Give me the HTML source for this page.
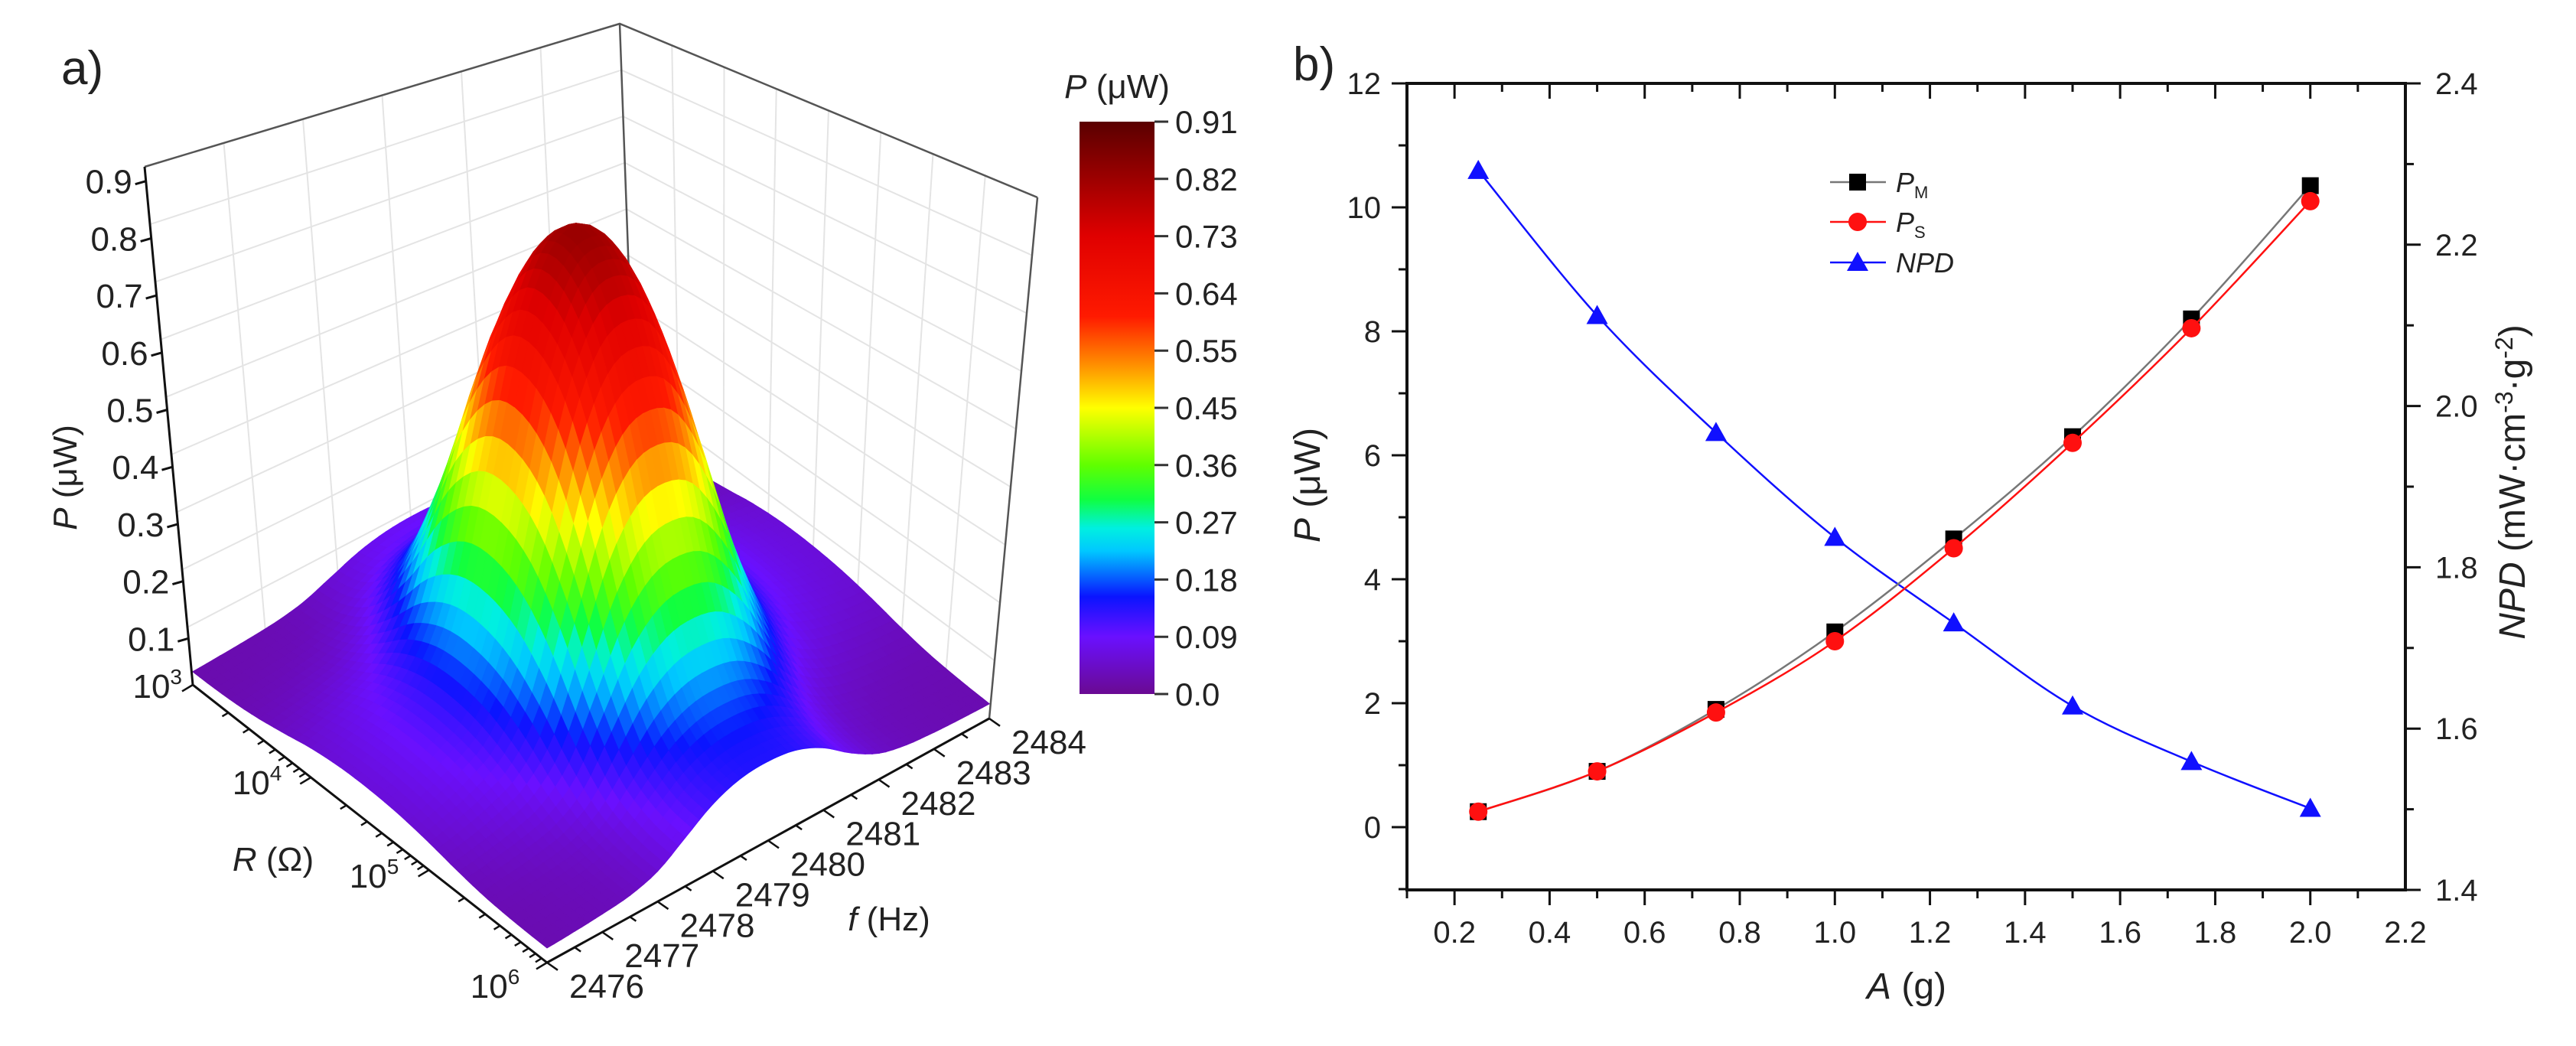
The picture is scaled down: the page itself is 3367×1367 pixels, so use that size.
<!DOCTYPE html>
<html><head><meta charset="utf-8"><style>
html,body{margin:0;padding:0;background:#fff}
svg{display:block}
text{font-family:"Liberation Sans",sans-serif;fill:#222}
</style></head><body>
<svg id="fig" width="3367" height="1367" viewBox="0 0 3367 1367">
<defs>
<linearGradient id="cbar" x1="0" y1="1" x2="0" y2="0">
<stop offset="0" stop-color="#6a0a92"/><stop offset="0.1" stop-color="#6a10ff"/>
<stop offset="0.17" stop-color="#0a14ff"/><stop offset="0.25" stop-color="#00c8ff"/>
<stop offset="0.29" stop-color="#00f0e0"/><stop offset="0.34" stop-color="#10ff40"/>
<stop offset="0.4" stop-color="#60ff00"/><stop offset="0.5" stop-color="#ffff00"/>
<stop offset="0.58" stop-color="#ff8800"/><stop offset="0.66" stop-color="#ff1a00"/>
<stop offset="0.8" stop-color="#e00000"/><stop offset="1" stop-color="#5a0000"/>
</linearGradient>
</defs>
<g id="left"></g>
<g id="right"></g>
</svg>
<script>
// ---------- Panel b data ----------
const amps = [0.25,0.5,0.75,1.0,1.25,1.5,1.75,2.0];
const pmValues = [0.25,0.9,1.9,3.15,4.65,6.3,8.2,10.35];
const psValues = [0.25,0.9,1.85,3.0,4.5,6.2,8.05,10.1];
const npdValues = [2.292,2.112,1.967,1.837,1.731,1.628,1.559,1.501];
const xTicks = ["0.2","0.4","0.6","0.8","1.0","1.2","1.4","1.6","1.8","2.0","2.2"];
const yLTicks = ["0","2","4","6","8","10","12"];
const yRTicks = ["1.4","1.6","1.8","2.0","2.2","2.4"];
// ---------- Panel a data ----------
const rProfile = [0.08,0.12,0.25,0.5,0.8,0.97,1,0.92,0.72,0.45,0.25,0.17,0.15];
const fProfile = [0.05,0.07,0.1,0.15,0.28,0.55,0.82,0.97,1,0.94,0.75,0.45,0.22,0.12,0.08,0.06,0.05];
const zTicks = ["0.1","0.2","0.3","0.4","0.5","0.6","0.7","0.8","0.9"];
const fTicks = ["2476","2477","2478","2479","2480","2481","2482","2483","2484"];
const cbTicks = ["0.0","0.09","0.18","0.27","0.36","0.45","0.55","0.64","0.73","0.82","0.91"];
const peakP = 0.8, floorP = 0.02;

const NS="http://www.w3.org/2000/svg";
function mk(parent,tag,attrs,txt){const e=document.createElementNS(NS,tag);for(const k in attrs)e.setAttribute(k,attrs[k]);if(txt!==undefined)e.textContent=txt;parent.appendChild(e);return e;}

// ================= Panel b =================
const R=document.getElementById('right');
const X0=1839,X1=3144,YT=109,YB=1163;
const xs=a=>X0+(a-0.1)/2.1*(X1-X0);
const yl=p=>1081-81*p;
const yr=n=>YT+(2.4-n)*(YB-YT)/1.0;
let e;
e=mk(R,'text',{x:1690,y:105,'font-size':62});e.textContent='b)';

e=mk(R,'rect',{x:X0,y:YT,width:X1-X0,height:YB-YT,fill:'none',stroke:'#111','stroke-width':4});

for(let i=1;i<=21;i++){const a=i/10;const x=xs(a);const major=(i%2===0);
 mk(R,'line',{x1:x,y1:YB,x2:x,y2:YB+(major?20:11),stroke:'#111','stroke-width':3});
 mk(R,'line',{x1:x,y1:YT,x2:x,y2:YT+(major?20:11),stroke:'#111','stroke-width':3});}
xTicks.forEach((t,i)=>{const a=0.2+0.2*i;e=mk(R,'text',{x:xs(a),y:1232,'font-size':40,'text-anchor':'middle'},t);
 });
for(let v=-1;v<=12;v++){const y=yl(v);const major=(v%2===0);
 mk(R,'line',{x1:X0,y1:y,x2:X0-(major?20:11),y2:y,stroke:'#111','stroke-width':3});}
yLTicks.forEach(t=>{e=mk(R,'text',{x:1805,y:yl(+t)+14,'font-size':40,'text-anchor':'end'},t);
 });
for(let i=0;i<=10;i++){const n=1.4+i*0.1;const y=yr(n);const major=(i%2===0);
 mk(R,'line',{x1:X1,y1:y,x2:X1+(major?20:11),y2:y,stroke:'#111','stroke-width':3});}
yRTicks.forEach(t=>{e=mk(R,'text',{x:3183,y:yr(+t)+14,'font-size':40},t);
 });
e=mk(R,'text',{x:2492,y:1305,'font-size':48,'text-anchor':'middle'});
e.innerHTML='<tspan font-style="italic">A</tspan> (g)';

e=mk(R,'text',{transform:'translate(1725,634) rotate(-90)','font-size':48,'text-anchor':'middle'});
e.innerHTML='<tspan font-style="italic">P</tspan> (μW)';

e=mk(R,'text',{transform:'translate(3300,630) rotate(-90)','font-size':48,'text-anchor':'middle'});
e.innerHTML='<tspan font-style="italic">NPD</tspan> (mW·cm<tspan dy="-16" font-size="32">-3</tspan><tspan dy="16">·g</tspan><tspan dy="-16" font-size="32">-2</tspan><tspan dy="16">)</tspan>';

function smooth(pts){let d='M'+pts[0][0]+','+pts[0][1];
 for(let i=0;i<pts.length-1;i++){const p0=pts[Math.max(0,i-1)],p1=pts[i],p2=pts[i+1],p3=pts[Math.min(pts.length-1,i+2)];
  const c1=[p1[0]+(p2[0]-p0[0])/6,p1[1]+(p2[1]-p0[1])/6],c2=[p2[0]-(p3[0]-p1[0])/6,p2[1]-(p3[1]-p1[1])/6];
  d+=' C'+c1+' '+c2+' '+p2;}return d;}
function series(vals,yfn,color,marker,name){
 const pts=amps.map((a,i)=>[xs(a),yfn(vals[i])]);
 const g=mk(R,'g',{});
 mk(g,'path',{d:smooth(pts),fill:'none',stroke:color==='#000'?'#777':color,'stroke-width':2.5});
 pts.forEach(p=>drawMarker(g,p[0],p[1],marker,color));}
function drawMarker(g,x,y,m,c){let el;
 if(m==='sq')el=mk(g,'rect',{x:x-11,y:y-11,width:22,height:22,fill:c});
 else if(m==='ci')el=mk(g,'circle',{cx:x,cy:y,r:12,fill:c});
 else el=mk(g,'path',{d:`M${x},${y-14} L${x+14},${y+11} L${x-14},${y+11}Z`,fill:c});
 }
series(npdValues,yr,'#1010ff','tr','npd-series');
series(pmValues,yl,'#000','sq','pm-series');
series(psValues,yl,'#ff1010','ci','ps-series');
const legend=[['#000','sq','M',238],['#ff1010','ci','S',290],['#1010ff','tr','NPD',343]];
legend.forEach(l=>{const g=mk(R,'g',{});
 mk(g,'line',{x1:2392,y1:l[3],x2:2465,y2:l[3],stroke:l[0]==='#000'?'#777':l[0],'stroke-width':2.5});
 drawMarker(g,2428,l[3],l[1],l[0]);
 const t=mk(g,'text',{x:2478,y:l[3]+13,'font-size':36,'font-style':'italic'});
 if(l[2]==='NPD')t.textContent='NPD';else t.innerHTML='P<tspan font-size="22" font-style="normal" dy="8">'+l[2]+'</tspan>';});

// ================= Panel a =================
const L=document.getElementById('left');
const A=[252,895],B=[715,1258],C=[1293,939];
const ZS=740;
function proj(u,v,z){return [A[0]+u*(B[0]-A[0])+v*(C[0]-B[0]), A[1]+u*(B[1]-A[1])+v*(C[1]-B[1])-ZS*z];}
e=mk(L,'text',{x:80,y:110,'font-size':62});e.textContent='a)';

const D=proj(0,1,0);
const topL=[189,218],topD=[810,31],topC=[1356,258];
const grid=mk(L,'g',{stroke:'#e4e4e4','stroke-width':2,fill:'none'});

for(let i=1;i<9;i++){const z=i/10;
 mk(grid,'line',{x1:A[0]-(A[0]-topL[0])*z/0.9,y1:A[1]-(A[1]-topL[1])*z/0.9,x2:D[0]-(D[0]-topD[0])*z/0.9,y2:D[1]-(D[1]-topD[1])*z/0.9});
 mk(grid,'line',{x1:D[0]-(D[0]-topD[0])*z/0.9,y1:D[1]-(D[1]-topD[1])*z/0.9,x2:C[0]-(C[0]-topC[0])*z/0.9,y2:C[1]-(C[1]-topC[1])*z/0.9});}
for(let i=1;i<8;i++){const t=i/8;
 mk(grid,'line',{x1:D[0]+t*(C[0]-D[0]),y1:D[1]+t*(C[1]-D[1]),x2:topD[0]+t*(topC[0]-topD[0]),y2:topD[1]+t*(topC[1]-topD[1])});}
for(let i=1;i<6;i++){const t=i/6;
 mk(grid,'line',{x1:A[0]+t*(D[0]-A[0]),y1:A[1]+t*(D[1]-A[1]),x2:topL[0]+t*(topD[0]-topL[0]),y2:topL[1]+t*(topD[1]-topL[1])});}
const fr=mk(L,'g',{stroke:'#555','stroke-width':2.5,fill:'none'});

mk(fr,'polyline',{points:[topL,topD,topC].join(' ')});
mk(fr,'line',{x1:D[0],y1:D[1],x2:topD[0],y2:topD[1]});
mk(fr,'line',{x1:C[0],y1:C[1],x2:topC[0],y2:topC[1]});
const cstops=[[0,[106,10,146]],[0.1,[106,16,255]],[0.17,[10,20,255]],[0.25,[0,200,255]],[0.29,[0,240,224]],[0.34,[16,255,64]],[0.4,[96,255,0]],[0.5,[255,255,0]],[0.58,[255,136,0]],[0.66,[255,26,0]],[0.8,[224,0,0]],[1,[90,0,0]]];
function cmap(p){let t=Math.max(0,Math.min(1,p/0.91));
 for(let i=0;i<cstops.length-1;i++){const a=cstops[i],b=cstops[i+1];if(t<=b[0]){const k=(t-a[0])/(b[0]-a[0]);
  return 'rgb('+a[1].map((c,j)=>Math.round(c+k*(b[1][j]-c))).join(',')+')';}}return 'rgb(90,0,0)';}
function interp(arr,t){const x=t*(arr.length-1);const i=Math.min(arr.length-2,Math.floor(x));const k=x-i;
 const p0=arr[Math.max(0,i-1)],p1=arr[i],p2=arr[i+1],p3=arr[Math.min(arr.length-1,i+2)];
 return p1+0.5*k*(p2-p0+k*(2*p0-5*p1+4*p2-p3+k*(3*(p1-p2)+p3-p0)));}
const NU=48,NV=64;
const Z=[];
for(let i=0;i<=NU;i++){Z[i]=[];for(let j=0;j<=NV;j++){Z[i][j]=floorP+peakP*Math.max(0,interp(rProfile,i/NU))*Math.max(0,interp(fProfile,j/NV));}}
// view depth direction in (u,v): screen-vertical ground direction
const du=-(C[0]-B[0]), dv=(B[0]-A[0]);
const quads=[];
for(let i=0;i<NU;i++)for(let j=0;j<NV;j++)quads.push([i,j,du*(i+0.5)/NU+dv*(j+0.5)/NV]);
quads.sort((a,b)=>b[2]-a[2]);
const surf=mk(L,'g',{});
quads.forEach(q=>{const [i,j]=q;const u0=i/NU,u1=(i+1)/NU,v0=j/NV,v1=(j+1)/NV;
 const p=[proj(u0,v0,Z[i][j]),proj(u1,v0,Z[i+1][j]),proj(u1,v1,Z[i+1][j+1]),proj(u0,v1,Z[i][j+1])];
 const zm=(Z[i][j]+Z[i+1][j]+Z[i+1][j+1]+Z[i][j+1])/4;const col=cmap(zm);
 mk(surf,'polygon',{points:p.map(pt=>pt[0].toFixed(1)+','+pt[1].toFixed(1)).join(' '),fill:col,stroke:col,'stroke-width':1.2});});
const zax=mk(L,'g',{});
mk(zax,'line',{x1:A[0],y1:A[1],x2:topL[0],y2:topL[1],stroke:'#111','stroke-width':3});
const zy=z=>909-747*z, zx=z=>A[0]-(A[0]-topL[0])*(A[1]-zy(z))/(A[1]-topL[1]);
zTicks.forEach(t=>{const z=+t;const x=zx(z),y=zy(z);
 mk(zax,'line',{x1:x,y1:y,x2:x-14,y2:y+4,stroke:'#111','stroke-width':3});
 e=mk(zax,'text',{x:x-18,y:y+16,'font-size':44,'text-anchor':'end'},t);
 });
e=mk(L,'text',{x:238,y:912,'font-size':44,'text-anchor':'end'});e.innerHTML='10<tspan dy="-18" font-size="28">3</tspan>';

e=mk(L,'text',{transform:'translate(100,624) rotate(-90)','font-size':44,'text-anchor':'middle'});
e.innerHTML='<tspan font-style="italic">P</tspan> (μW)';

const rax=mk(L,'g',{});
mk(rax,'line',{x1:A[0],y1:A[1],x2:B[0],y2:B[1],stroke:'#111','stroke-width':3});
for(let d=0;d<3;d++)for(let m=1;m<=10;m++){const t=(d+Math.log10(m))/3;if(m===10&&d<2)continue;
 const x=A[0]+t*(B[0]-A[0]),y=A[1]+t*(B[1]-A[1]);const len=(m===1||m===10)?14:8;
 mk(rax,'line',{x1:x,y1:y,x2:x-len,y2:y+len*0.6,stroke:'#111','stroke-width':2.5});}
[['4',336,1038],['5',489,1160],['6',647,1304]].forEach(r=>{e=mk(L,'text',{x:r[1],y:r[2],'font-size':44,'text-anchor':'middle'});
 e.innerHTML='10<tspan dy="-18" font-size="28">'+r[0]+'</tspan>';
 });
e=mk(L,'text',{x:357,y:1138,'font-size':44,'text-anchor':'middle'});
e.innerHTML='<tspan font-style="italic">R</tspan> (Ω)';

const fax=mk(L,'g',{});
mk(fax,'line',{x1:B[0],y1:B[1],x2:C[0],y2:C[1],stroke:'#111','stroke-width':3});
for(let k=0;k<=16;k++){const t=k/16;const x=B[0]+t*(C[0]-B[0]),y=B[1]+t*(C[1]-B[1]);const len=k%2===0?14:8;
 mk(fax,'line',{x1:x,y1:y,x2:x+len,y2:y+len*0.7,stroke:'#111','stroke-width':2.5});}
fTicks.forEach((t,k)=>{const s=k/8;const x=B[0]+s*(C[0]-B[0])+78,y=B[1]+s*(C[1]-B[1])+46;
 e=mk(fax,'text',{x:x,y:y,'font-size':44,'text-anchor':'middle'},t);
 });
e=mk(L,'text',{x:1162,y:1216,'font-size':44,'text-anchor':'middle'});
e.innerHTML='<tspan font-style="italic">f</tspan> (Hz)';

const cb=mk(L,'g',{});
mk(cb,'rect',{x:1411,y:159,width:98,height:748,fill:'url(#cbar)'});
cbTicks.forEach((t,k)=>{const y=907-k*74.8;
 mk(cb,'line',{x1:1509,y1:y,x2:1527,y2:y,stroke:'#333','stroke-width':3});
 e=mk(cb,'text',{x:1536,y:y+15,'font-size':42},t);
 });
e=mk(L,'text',{x:1460,y:128,'font-size':44,'text-anchor':'middle'});
e.innerHTML='<tspan font-style="italic">P</tspan> (μW)';

</script>
</body></html>
